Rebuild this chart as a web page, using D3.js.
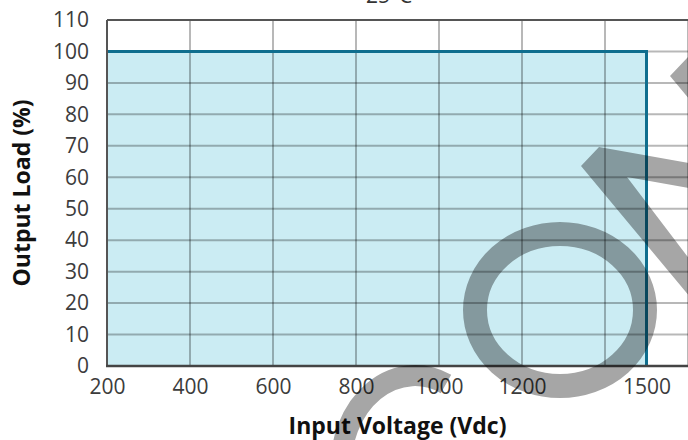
<!DOCTYPE html>
<html>
<head>
<meta charset="utf-8">
<script src="https://cdn.jsdelivr.net/npm/d3@7"></script>
<style>
  body { margin: 0; background: #fff; }
  svg { display: block; font-family: "Open Sans", sans-serif; }
</style>
</head>
<body>
<main></main>
<script>
// data
var voltage = [200, 1500, 1500];
var load = [100, 100, 0];
var xTickLabels = [200, 400, 600, 800, 1000, 1200, 1500];
var xGridValues = [400, 600, 800, 1000, 1200, 1400, 1600];
var yTickValues = [0, 10, 20, 30, 40, 50, 60, 70, 80, 90, 100, 110];

var W = 688, H = 440;
var svg = d3.select('main').append('svg')
    .attr('width', W)
    .attr('height', H);

var x = d3.scaleLinear().domain([200, 1600]).range([107, 688]);
var y = d3.scaleLinear().domain([0, 110]).range([366, 20]);

var pts = voltage.map((v, i) => [v, load[i]]);

// shaded operating area
var area = d3.area()
    .x(d => x(d[0]))
    .y0(y(0))
    .y1(d => y(d[1]));
svg.append('path')
    .datum(pts.slice(0, 2))
    .attr('d', area)
    .attr('fill', '#cbecf3');

// grid
svg.append('g').selectAll('line')
    .data(yTickValues.filter(v => v > 0 && v < 110))
    .enter().append('line')
    .attr('x1', x(200)).attr('x2', x(1600))
    .attr('y1', d => y(d)).attr('y2', d => y(d))
    .attr('stroke', '#000').attr('stroke-opacity', 0.28).attr('stroke-width', 2);
svg.append('g').selectAll('line')
    .data(xGridValues)
    .enter().append('line')
    .attr('x1', d => x(d)).attr('x2', d => x(d))
    .attr('y1', y(110)).attr('y2', y(0))
    .attr('stroke', '#000').attr('stroke-opacity', 0.28).attr('stroke-width', 2);

// boundary line
var line = d3.line().x(d => x(d[0])).y(d => y(d[1]));
svg.append('path')
    .datum(pts)
    .attr('d', line)
    .attr('fill', 'none')
    .attr('stroke', '#0f6e8e')
    .attr('stroke-width', 3);

// frame
svg.append('line')
    .attr('x1', x(200)).attr('x2', x(1600)).attr('y1', y(110)).attr('y2', y(110))
    .attr('stroke', '#555').attr('stroke-width', 2);
svg.append('line')
    .attr('x1', x(200)).attr('x2', x(200)).attr('y1', y(110)).attr('y2', y(0))
    .attr('stroke', '#555').attr('stroke-width', 2);
svg.append('line')
    .attr('x1', x(200) - 1).attr('x2', x(1600)).attr('y1', y(0)).attr('y2', y(0))
    .attr('stroke', '#444').attr('stroke-width', 2.5);

// axes
var xAxis = svg.append('g')
    .attr('transform', 'translate(0,' + y(0) + ')')
    .call(d3.axisBottom(x).tickValues(xTickLabels).tickSize(0).tickPadding(13).tickFormat(d3.format('d')));
var yAxis = svg.append('g')
    .attr('transform', 'translate(' + x(200) + ',0)')
    .call(d3.axisLeft(y).tickValues(yTickValues).tickSize(0).tickPadding(18));
[xAxis, yAxis].forEach(g => {
    g.select('.domain').remove();
    g.selectAll('text')
        .attr('font-family', '"Open Sans", sans-serif')
        .attr('font-size', 21)
        .attr('fill', '#3c3c3c');
});

// titles
svg.append('text')
    .attr('x', (x(200) + x(1600)) / 2)
    .attr('y', 434)
    .attr('text-anchor', 'middle')
    .attr('font-size', 23)
    .attr('font-weight', 'bold')
    .attr('fill', '#111')
    .text('Input Voltage (Vdc)');
svg.append('text')
    .attr('transform', 'translate(30,' + (y(0) + y(110)) / 2 + ') rotate(-90)')
    .attr('text-anchor', 'middle')
    .attr('font-size', 23)
    .attr('font-weight', 'bold')
    .attr('fill', '#111')
    .text('Output Load (%)');
svg.append('text')
    .attr('x', 366)
    .attr('y', 3)
    .attr('font-size', 21)
    .attr('fill', '#333')
    .text('25°C');

// watermark overlay
var wm = svg.append('g').attr('opacity', 0.35);
wm.append('ellipse')
    .attr('cx', 560).attr('cy', 310).attr('rx', 85).attr('ry', 76)
    .attr('fill', 'none').attr('stroke', '#000').attr('stroke-width', 24);
wm.append('path')
    .attr('d', 'M 341 470 A 74 91 0 0 1 446 384')
    .attr('fill', 'none').attr('stroke', '#000').attr('stroke-width', 21);
var chev = 'M581,166 L599,147 L700,165 L700,190 L627,177 L700,273 L700,309 Z';
wm.append('path').attr('d', chev).attr('fill', '#000');
wm.append('path').attr('d', chev).attr('fill', '#000').attr('transform', 'translate(89,-90)');
</script>
</body>
</html>
